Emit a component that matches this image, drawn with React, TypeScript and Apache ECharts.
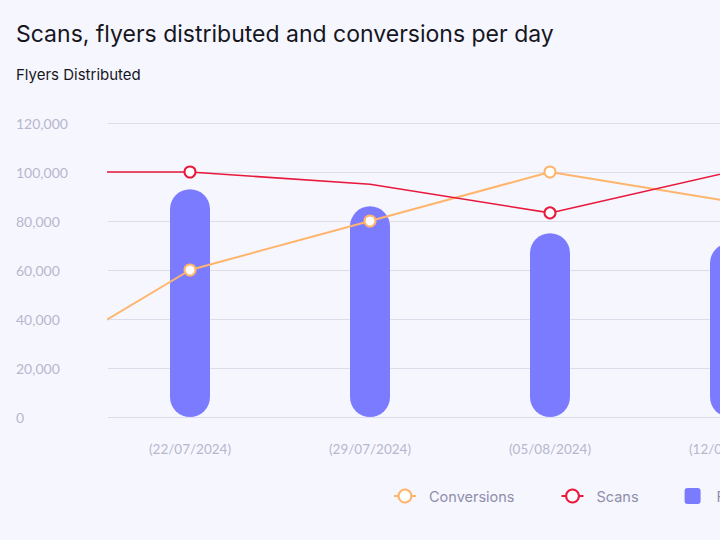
import React, { useEffect, useRef } from "react";
import * as echarts from "echarts";

const categories = ["15/07/2024", "22/07/2024", "29/07/2024", "05/08/2024", "12/08/2024"];
const flyersDistributed: (number | null)[] = [null, 93000, 86000, 75000, 71000];
const scans = [100000, 100000, 95000, 83300, 100000];
const conversions = [16000, 60000, 80000, 100000, 88000];
const scansHiddenSymbol = [false, false, true, false, false];
const yTicks = { min: 0, max: 120000, interval: 20000 };

const FONT = "Lato, 'Noto Sans', sans-serif";
const HEAD_FONT = "Inter, 'Noto Sans', sans-serif";
const BG = "#f6f6fe";
const RED = "#e8193c";
const ORANGE = "#ffb56b";
const BLUE = "#7b7bff";
const LABEL = "#b6b6cf";

export default function App() {
  const ref = useRef<HTMLDivElement>(null);
  useEffect(() => {
    if (!ref.current) return;
    const chart = echarts.init(ref.current, null, { renderer: "svg" });
    const squareIcon =
      "path://M3,0 H13 A3,3 0 0 1 16,3 V13 A3,3 0 0 1 13,16 H3 A3,3 0 0 1 0,13 V3 A3,3 0 0 1 3,0 Z";
    chart.setOption({
      animation: false,
      backgroundColor: BG,
      textStyle: { fontFamily: FONT },
      title: [
        {
          text: "Scans, flyers distributed and conversions per day",
          left: 16,
          top: 22,
          padding: 0,
          textStyle: { fontFamily: HEAD_FONT, fontSize: 23, fontWeight: "normal", color: "#16161f" },
        },
        {
          text: "Flyers Distributed",
          left: 16,
          top: 67,
          padding: 0,
          textStyle: { fontFamily: HEAD_FONT, fontSize: 15, fontWeight: "normal", color: "#16161f" },
        },
      ],
      legend: {
        left: 393,
        top: 488,
        padding: 0,
        itemWidth: 22,
        itemHeight: 16,
        itemGap: 46,
        textStyle: { fontFamily: HEAD_FONT, fontSize: 14.5, color: "#8e8eab", padding: [0, 0, 0, 8] },
        data: ["Conversions", "Scans", { name: "Flyers Distributed", icon: squareIcon }],
      },
      grid: { left: 108, right: 22, top: 123, bottom: 123, containLabel: false },
      xAxis: {
        type: "value",
        min: 1 - 82 / 180,
        max: 4.6,
        minInterval: 1,
        maxInterval: 1,
        axisLine: { show: false },
        axisTick: { show: false },
        splitLine: { show: false },
        axisLabel: {
          showMinLabel: false,
          showMaxLabel: false,
          margin: 25,
          color: LABEL,
          fontSize: 13.5,
          fontFamily: FONT,
          formatter: (v: number) =>
            Number.isInteger(v) && categories[v] ? `(${categories[v]})` : "",
        },
      },
      yAxis: {
        type: "value",
        min: yTicks.min,
        max: yTicks.max,
        interval: yTicks.interval,
        axisLine: { show: false },
        axisTick: { show: false },
        splitLine: { lineStyle: { color: "#dcdcea", width: 1 } },
        axisLabel: {
          align: "left",
          margin: 92,
          color: LABEL,
          fontSize: 14,
          fontFamily: FONT,
          formatter: (v: number) => v.toLocaleString("en-US"),
        },
      },
      series: [
        {
          name: "Flyers Distributed",
          type: "bar",
          barWidth: 40,
          itemStyle: { color: BLUE, borderRadius: 20 },
          data: categories.map((_, i) => [i, flyersDistributed[i]]),
          z: 1,
        },
        {
          name: "Conversions",
          type: "line",
          symbol: "emptyCircle",
          symbolSize: 11,
          lineStyle: { color: ORANGE, width: 2 },
          itemStyle: { color: ORANGE, borderWidth: 2 },
          data: categories.map((_, i) => [i, conversions[i]]),
          z: 3,
        },
        {
          name: "Scans",
          type: "line",
          symbol: "emptyCircle",
          symbolSize: 11,
          lineStyle: { color: RED, width: 1.6 },
          itemStyle: { color: RED, borderWidth: 2 },
          data: categories.map((_, i) =>
            scansHiddenSymbol[i]
              ? { value: [i, scans[i]], symbol: "none" }
              : { value: [i, scans[i]] }
          ),
          z: 4,
        },
      ],
    });
    return () => chart.dispose();
  }, []);
  return (
    <div
      style={{
        position: "fixed",
        left: 0,
        top: 0,
        width: 720,
        height: 540,
        overflow: "hidden",
        background: BG,
      }}
    >
      <div ref={ref} style={{ width: 860, height: 540 }} />
    </div>
  );
}
